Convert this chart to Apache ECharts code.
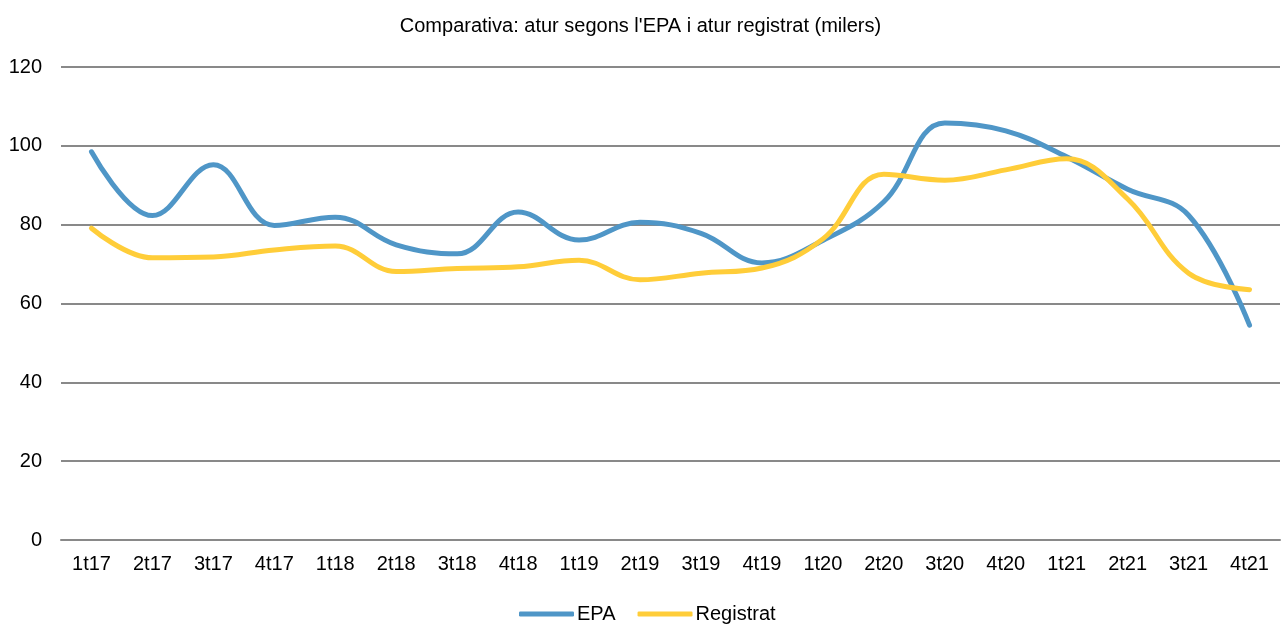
<!DOCTYPE html>
<html>
<head>
<meta charset="utf-8">
<script src="https://cdn.jsdelivr.net/npm/echarts@6/dist/echarts.min.js"></script>
<style>html,body{margin:0;padding:0;background:#fff}#c{width:1281px;height:625px}</style>
</head>
<body>
<div id="c"></div>
<script>
var categories = ['1t17','2t17','3t17','4t17','1t18','2t18','3t18','4t18','1t19','2t19','3t19','4t19','1t20','2t20','3t20','4t20','1t21','2t21','3t21','4t21'];
var epa = [98.5, 82.3, 95.2, 79.8, 81.9, 74.9, 72.6, 83.2, 76.1, 80.6, 77.8, 70.3, 76.0, 85.8, 105.8, 103.8, 97.2, 89.0, 82.4, 54.5];
var registrat = [79.1, 71.6, 71.8, 73.6, 74.6, 68.1, 68.9, 69.3, 71.0, 66.0, 67.7, 69.0, 76.4, 92.8, 91.3, 93.9, 96.7, 86.5, 67.7, 63.5];
var yTicks = [0, 20, 40, 60, 80, 100, 120];

var FONT = 'Liberation Sans, Arial, sans-serif';
var chart = echarts.init(document.getElementById('c'));
chart.setOption({
  animation: false,
  textStyle: { fontFamily: FONT },
  title: {
    text: "Comparativa: atur segons l'EPA i atur registrat (milers)",
    left: 'center', top: 11,
    textStyle: { fontSize: 20, fontWeight: 'normal', color: '#000', fontFamily: FONT }
  },
  legend: {
    top: 599, left: 514,
    icon: 'roundRect', itemWidth: 55, itemHeight: 5, itemGap: 22,
    textStyle: { fontSize: 20, color: '#000', padding: [0, 0, 0, -2] },
    data: ['EPA', 'Registrat']
  },
  grid: { left: 61, right: 1, top: 67, bottom: 85, containLabel: false },
  xAxis: {
    type: 'category', data: categories, boundaryGap: true,
    axisLine: { lineStyle: { color: '#898989', width: 2 } },
    axisTick: { show: false },
    axisLabel: { color: '#000', fontSize: 20, margin: 14, interval: 0 }
  },
  yAxis: {
    type: 'value', min: yTicks[0], max: yTicks[yTicks.length - 1], interval: 20,
    axisLine: { show: false }, axisTick: { show: false },
    axisLabel: { color: '#000', fontSize: 20, margin: 19 },
    splitLine: { lineStyle: { color: '#898989', width: 2 } }
  },
  series: [
    { name: 'EPA', type: 'line', data: epa, smooth: 0.4, symbol: 'none',
      lineStyle: { color: '#4f96c7', width: 5, cap: 'round' }, itemStyle: { color: '#4f96c7' } },
    { name: 'Registrat', type: 'line', data: registrat, smooth: 0.4, symbol: 'none',
      lineStyle: { color: '#ffcd39', width: 5, cap: 'round' }, itemStyle: { color: '#ffcd39' } }
  ]
});
</script>
</body>
</html>
